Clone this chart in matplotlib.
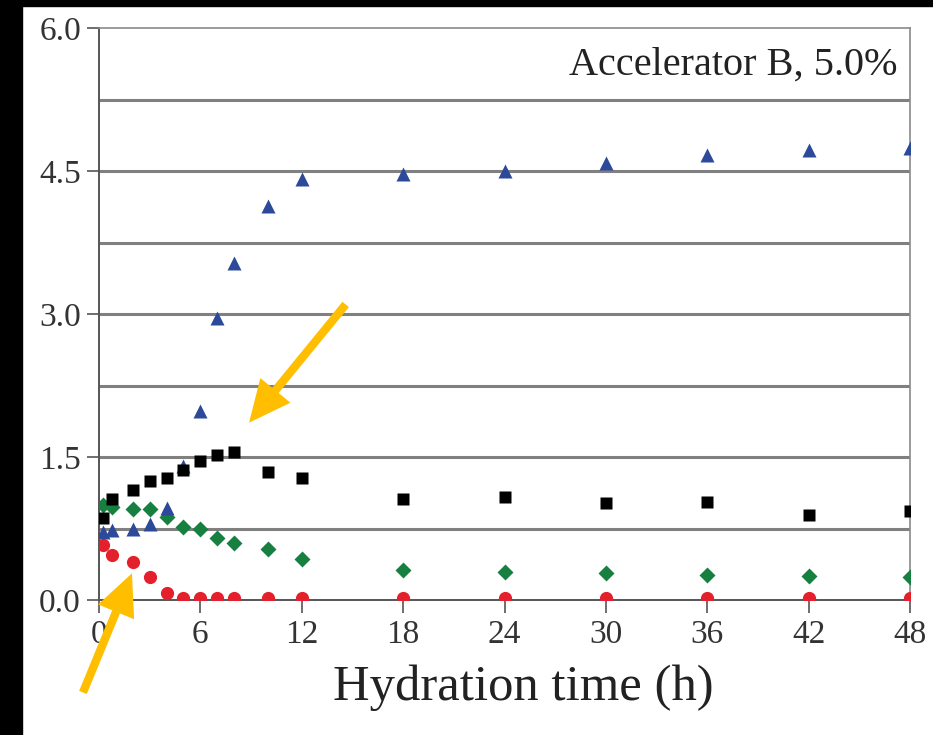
import matplotlib
matplotlib.use("Agg")
import matplotlib.pyplot as plt
from matplotlib.patches import Rectangle

plt.rcParams['font.family'] = ['Liberation Serif', 'DejaVu Serif']

# hydration time (h)
hours = [0.25, 0.75, 2, 3, 4, 5, 6, 7, 8, 10, 12, 18, 24, 30, 36, 42, 48]

black_sq = [0.86, 1.06, 1.15, 1.25, 1.28, 1.36, 1.46, 1.52, 1.55, 1.34, 1.28,
            1.06, 1.08, 1.02, 1.03, 0.89, 0.93]
blue_tri = [0.71, 0.73, 0.75, 0.80, 0.97, 1.41, 1.98, 2.96, 3.53, 4.13, 4.42,
            4.47, 4.50, 4.58, 4.67, 4.72, 4.74]
green_dia = [1.00, 0.98, 0.95, 0.95, 0.87, 0.77, 0.74, 0.65, 0.60, 0.53, 0.43,
             0.31, 0.29, 0.28, 0.26, 0.25, 0.24]
red_circ = [0.58, 0.47, 0.40, 0.24, 0.07, 0.02, 0.02, 0.02, 0.02, 0.02, 0.02,
            0.02, 0.02, 0.02, 0.02, 0.02, 0.02]

x_ticks = [0, 6, 12, 18, 24, 30, 36, 42, 48]
y_ticks = [0.0, 1.5, 3.0, 4.5, 6.0]
grid_levels = [0.75, 1.5, 2.25, 3.0, 3.75, 4.5, 5.25]

fig = plt.figure(figsize=(9.33, 7.35), dpi=100)
fig.patch.set_facecolor('white')
# dark border strips
fig.patches.append(Rectangle((0, 0), 22 / 933, 1, transform=fig.transFigure,
                             color='black', zorder=0))
fig.patches.append(Rectangle((0, 1 - 6 / 735), 1, 6 / 735, transform=fig.transFigure,
                             color='black', zorder=0))

ax = fig.add_axes([99 / 933, 1 - 600 / 735, (910 - 99) / 933, (600 - 28) / 735])

for lvl in grid_levels:
    ax.axhline(lvl, color='#808080', lw=2.2, zorder=1)

ax.plot(hours, red_circ, 'o', color='#E3202B', ms=9.5, mec='none', zorder=3)
ax.plot(hours, green_dia, 'D', color='#178040', ms=8, mec='none', zorder=4)
ax.plot(hours, blue_tri, '^', color='#2D4A9A', ms=10, mec='none', zorder=5)
ax.plot(hours, black_sq, 's', color='black', ms=8.5, mec='none', zorder=6)

ax.set_xlim(0, 48)
ax.set_ylim(0, 6)
ax.set_xticks(x_ticks)
ax.set_yticks(y_ticks)
ax.set_yticklabels([f"{v:.1f}" for v in y_ticks])
ax.tick_params(axis='both', labelsize=24, colors='#555555', labelcolor='#333333',
               length=9, width=1.2, direction='out')
ax.tick_params(axis='x', pad=5)
ax.tick_params(axis='y', pad=4)

for side in ['top', 'right']:
    ax.spines[side].set_color('#8a8a8a')
    ax.spines[side].set_linewidth(1.2)
for side in ['left', 'bottom']:
    ax.spines[side].set_color('#555555')
    ax.spines[side].set_linewidth(1.4)

ax.text(0.984, 0.935, "Accelerator B, 5.0%", transform=ax.transAxes,
        ha='right', va='center', fontsize=29, color='#222222')

fig.text(523 / 933, 1 - 688 / 735, "Hydration time (h)", ha='center', va='center',
         fontsize=36.5, color='#222222')

# arrows pointing at the peak of the squares and the early drop of the circles
arrow_kw = dict(arrowstyle='simple,head_length=3.0,head_width=2.8,tail_width=0.6',
                mutation_scale=10, color='#FFBE00', shrinkA=0, shrinkB=0, lw=0)
ax.annotate('', xy=(8.88, 1.86), xytext=(14.6, 3.10), arrowprops=arrow_kw,
            annotation_clip=False, zorder=10)
ax.annotate('', xy=(1.95, 0.28), xytext=(-0.95, -0.97), arrowprops=arrow_kw,
            annotation_clip=False, zorder=10)

fig.savefig('out.png', dpi=100)
